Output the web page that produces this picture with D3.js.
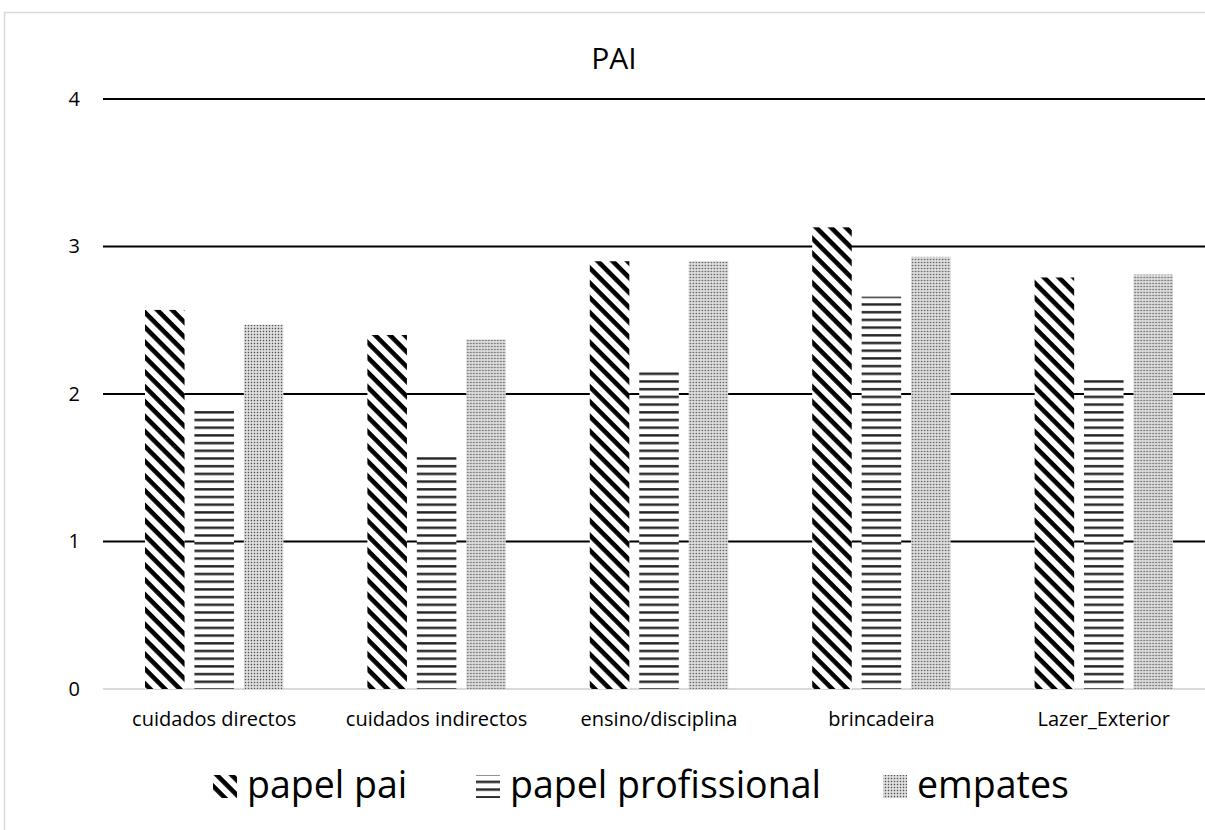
<!DOCTYPE html>
<html>
<head>
<meta charset="utf-8">
<script src="https://cdn.jsdelivr.net/npm/d3@7"></script>
<style>
  body { margin: 0; background: #fff; }
  svg { display: block; font-family: "Open Sans", "Noto Sans", sans-serif; }
</style>
</head>
<body>
<div id="chart"></div>
<script>
// data
var categories = ["cuidados directos", "cuidados indirectos", "ensino/disciplina", "brincadeira", "Lazer_Exterior"];
var seriesNames = ["papel pai", "papel profissional", "empates"];
var papelPai = [2.57, 2.40, 2.90, 3.13, 2.79];
var papelProfissional = [1.90, 1.60, 2.16, 2.66, 2.11];
var empates = [2.47, 2.37, 2.90, 2.93, 2.81];
var yTicks = [0, 1, 2, 3, 4];

var width = 1205, height = 830;
var plotLeft = 103, plotRight = 1215, plotTop = 99, plotBottom = 689;

var svg = d3.select("#chart")
  .append("svg")
  .attr("width", width)
  .attr("height", height);

// chart frame (cut off right and bottom, like the screenshot)
svg.append("rect")
  .attr("x", 4.5).attr("y", 12.5)
  .attr("width", 1300).attr("height", 900)
  .attr("fill", "#fff")
  .attr("stroke", "#d9d9d9")
  .attr("stroke-width", 1.5);

var defs = svg.append("defs");

// diagonal stripes for papel pai
var pDiag = defs.append("pattern")
  .attr("id", "pat-pai")
  .attr("patternUnits", "userSpaceOnUse")
  .attr("width", 10.5).attr("height", 10.5)
  .attr("patternTransform", "rotate(45)");
pDiag.append("rect").attr("width", 10.5).attr("height", 10.5).attr("fill", "#fff");
pDiag.append("rect").attr("y", 0).attr("width", 10.5).attr("height", 4.6).attr("fill", "#000");

// horizontal lines for papel profissional
var pHor = defs.append("pattern")
  .attr("id", "pat-prof")
  .attr("patternUnits", "userSpaceOnUse")
  .attr("width", 8).attr("height", 7.7);
pHor.append("rect").attr("width", 8).attr("height", 7.7).attr("fill", "#fff");
pHor.append("rect").attr("y", 3).attr("width", 8).attr("height", 2.4).attr("fill", "#222");

// dots for empates
var pDot = defs.append("pattern")
  .attr("id", "pat-emp")
  .attr("patternUnits", "userSpaceOnUse")
  .attr("width", 3).attr("height", 3);
pDot.append("rect").attr("width", 3).attr("height", 3).attr("fill", "#e8e8e8");
pDot.append("rect").attr("x", 0.75).attr("y", 0.75).attr("width", 1.5).attr("height", 1.5).attr("fill", "#555");

var fills = ["url(#pat-pai)", "url(#pat-prof)", "url(#pat-emp)"];

var x0 = d3.scaleBand()
  .domain(categories)
  .range([plotLeft, plotRight]);

var x1 = d3.scaleBand()
  .domain(seriesNames)
  .range([42, x0.bandwidth() - 42])
  .paddingInner(0.2);

var y = d3.scaleLinear()
  .domain([0, 4])
  .range([plotBottom, plotTop]);

// gridlines
svg.append("g")
  .selectAll("line")
  .data(yTicks)
  .enter()
  .append("line")
  .attr("x1", plotLeft)
  .attr("x2", width + 20)
  .attr("y1", function(d) { return y(d); })
  .attr("y2", function(d) { return y(d); })
  .attr("stroke", function(d) { return d === 0 ? "#d9d9d9" : "#000"; })
  .attr("stroke-width", 2);

// y axis labels
var yAxis = d3.axisLeft(y).tickValues(yTicks).tickSize(0).tickPadding(0).tickFormat(d3.format("d"));
var yg = svg.append("g").attr("transform", "translate(80,0)").call(yAxis);
yg.select(".domain").remove();
yg.selectAll("text").attr("font-size", 20).attr("fill", "#000").attr("font-family", "Open Sans, sans-serif");

// x axis labels
var xAxis = d3.axisBottom(x0).tickSize(0).tickPadding(0);
var xg = svg.append("g").attr("transform", "translate(0,712)").call(xAxis);
xg.select(".domain").remove();
xg.selectAll("text").attr("font-size", 20).attr("fill", "#000").attr("font-family", "Open Sans, sans-serif");

// bars
var rows = categories.map(function(c, i) {
  return { cat: c, values: [papelPai[i], papelProfissional[i], empates[i]] };
});

var groups = svg.append("g")
  .selectAll("g")
  .data(rows)
  .enter()
  .append("g")
  .attr("transform", function(d) { return "translate(" + x0(d.cat) + ",0)"; });

groups.selectAll("rect")
  .data(function(d) { return d.values.map(function(v, j) { return { name: seriesNames[j], value: v, j: j }; }); })
  .enter()
  .append("rect")
  .attr("x", function(d) { return x1(d.name); })
  .attr("width", x1.bandwidth())
  .attr("y", function(d) { return y(d.value); })
  .attr("height", function(d) { return y(0) - y(d.value); })
  .attr("fill", function(d) { return fills[d.j]; });

// title
svg.append("text")
  .attr("x", 614).attr("y", 69)
  .attr("text-anchor", "middle")
  .attr("font-size", 30)
  .text("PAI");

// legend
var legendX = [247, 510, 917];
var leg = svg.append("g")
  .selectAll("g")
  .data(seriesNames)
  .enter()
  .append("g")
  .attr("transform", function(d, i) { return "translate(" + legendX[i] + ",0)"; });

leg.append("rect")
  .attr("x", -34).attr("y", 775)
  .attr("width", 24).attr("height", 23)
  .attr("fill", function(d, i) { return fills[i]; });

leg.append("text")
  .attr("x", 0).attr("y", 798)
  .attr("font-size", 37.5)
  .text(function(d) { return d; });
</script>
</body>
</html>
